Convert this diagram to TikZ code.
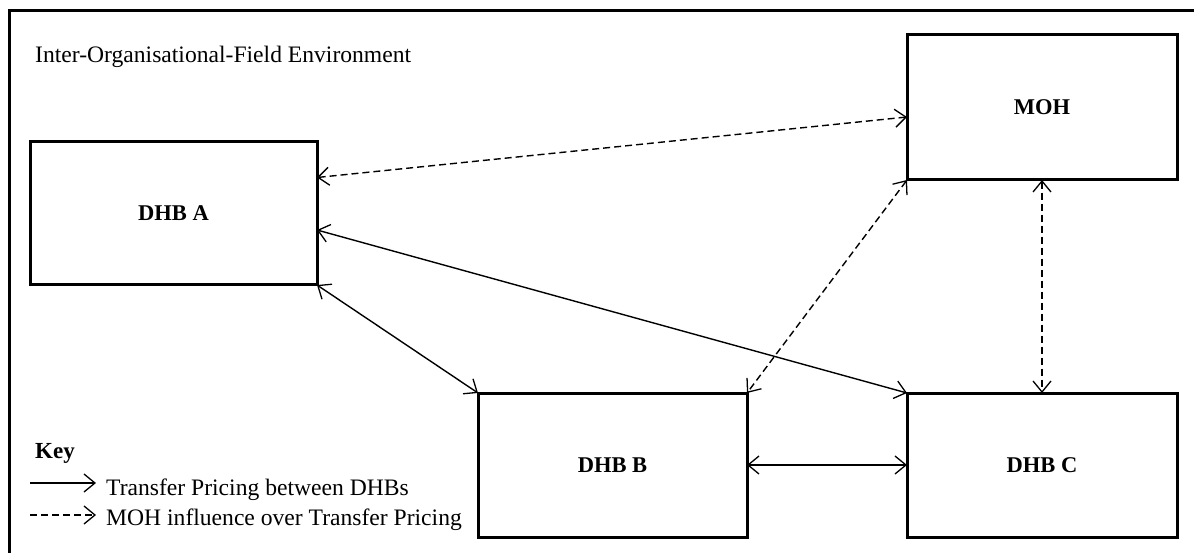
\documentclass[tikz,border=0pt]{standalone}
\usepackage{fontspec}
\setmainfont{Liberation Serif}
\usetikzlibrary{arrows.meta}
\tikzset{
  tip/.tip={Straight Barb[length=11pt,width=18pt,line width=1.3pt]},
  box/.style={draw, line width=3pt, rectangle, outer sep=0pt, inner sep=0pt,
    font=\fontsize{22.5}{27}\selectfont\bfseries},
  solidlink/.style={line width=1.4pt, tip-tip},
  dashlink/.style={solidlink, dash pattern=on 7pt off 4pt},
  keytext/.style={anchor=base west, inner sep=0pt, font=\fontsize{23.6}{28}\selectfont},
}
\begin{document}
\begin{tikzpicture}[x=1pt, y=-1pt]
\useasboundingbox (0,0) rectangle (1194,553);
% outer frame (only top and left visible)
\draw[line width=3pt] (9,553) -- (9,11) -- (1194,11);
\node[keytext] (title) at (35,63) {Inter-Organisational-Field Environment};

\node[box, minimum width=287pt, minimum height=143pt] (A) at (173.5,213.5) {DHB A};
\node[box, minimum width=270pt, minimum height=145pt] (M) at (1042,107.5) {MOH};
\node[box, minimum width=269pt, minimum height=144pt] (B) at (612.5,465) {DHB B};
\node[box, minimum width=270pt, minimum height=144pt] (C) at (1042,465) {DHB C};

\draw[dashlink] ([yshift=36pt]A.east) -- ([yshift=-9.5pt]M.west);
\draw[solidlink] ([yshift=-16.5pt]A.east) -- (C.north west);
\draw[solidlink] (A.south east) -- (B.north west);
\draw[dashlink] (M.south west) -- (B.north east);
\draw[dashlink] (M.south) -- (C.north);
\draw[solidlink] (B.east) -- (C.west);

% key
\node[keytext, font=\fontsize{23}{28}\selectfont\bfseries] (key) at (35,458) {Key};
\coordinate (k1a) at (30,483);
\coordinate (k1b) at (96,483);
\draw[line width=1.4pt, -tip] (k1a) -- (k1b);
\node[keytext] (k1t) at (106,495) {Transfer Pricing between DHBs};
\coordinate (k2a) at (30,515);
\coordinate (k2b) at (96,515);
\draw[line width=1.4pt, dash pattern=on 7pt off 4pt, -tip] (k2a) -- (k2b);
\node[keytext] (k2t) at (106,525) {MOH influence over Transfer Pricing};
\end{tikzpicture}
\end{document}
